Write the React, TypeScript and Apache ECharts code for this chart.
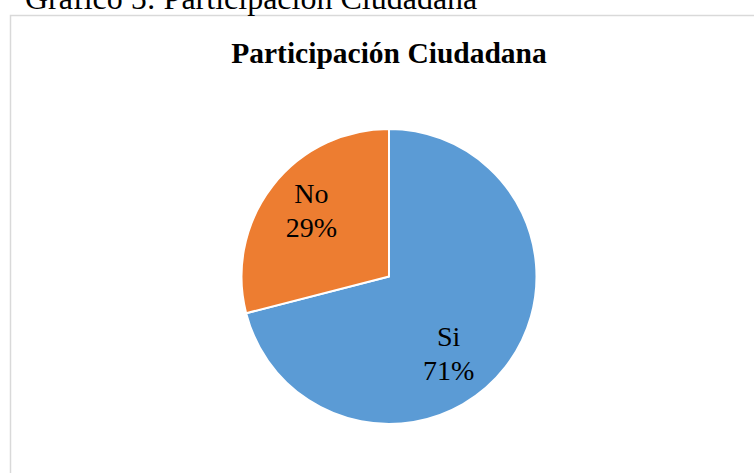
import React, { useEffect, useRef } from "react";
import * as echarts from "echarts";

const categories = ["Si", "No"];
const values = [71, 29];
const sliceColors = ["#5B9BD5", "#ED7D31"];
const labelOffsets = [
  { dx: -1, dy: 30 },
  { dx: -17, dy: -19 },
];
const captionText = "Gráfico 5: Participación Ciudadana";
const titleText = "Participación Ciudadana";

const SERIF = "'Liberation Serif', 'Times New Roman', serif";

export default function App() {
  const ref = useRef<HTMLDivElement>(null);
  useEffect(() => {
    if (!ref.current) return;
    const chart = echarts.init(ref.current, undefined, { renderer: "svg" });
    chart.setOption({
      animation: false,
      backgroundColor: "#ffffff",
      graphic: [
        {
          type: "rect",
          shape: { x: 10.5, y: 15.5, width: 800, height: 600 },
          style: { fill: "none", stroke: "#d9d9d9", lineWidth: 1.5 },
          z: 0,
        },
        {
          type: "text",
          x: 25,
          y: -1.8,
          style: {
            text: captionText,
            fontFamily: SERIF,
            fontSize: 32,
            fill: "#000000",
            textAlign: "left",
            textVerticalAlign: "middle",
          },
        },
        {
          type: "text",
          x: 389,
          y: 53,
          style: {
            text: titleText,
            fontFamily: SERIF,
            fontWeight: "bold",
            fontSize: 29.5,
            fill: "#000000",
            textAlign: "center",
            textVerticalAlign: "middle",
          },
        },
      ],
      series: [
        {
          type: "pie",
          center: [389, 276.5],
          radius: 147.5,
          startAngle: 90,
          clockwise: true,
          data: categories.map((name, i) => ({
            name,
            value: values[i],
            itemStyle: { color: sliceColors[i] },
          })),
          itemStyle: { borderColor: "#ffffff", borderWidth: 2 },
          label: {
            show: true,
            position: "inside",
            formatter: (p: any) => `${p.name}\n${Math.round(p.percent)}%`,
            fontFamily: SERIF,
            fontSize: 28,
            lineHeight: 34,
            color: "#000000",
            align: "center",
          },
          labelLine: { show: false },
          labelLayout: (params: any) => labelOffsets[params.dataIndex] || {},
          emphasis: { disabled: true },
        },
      ],
    });
    return () => chart.dispose();
  }, []);
  return (
    <div
      ref={ref}
      style={{ position: "fixed", left: 0, top: 0, width: 754, height: 473 }}
    />
  );
}
